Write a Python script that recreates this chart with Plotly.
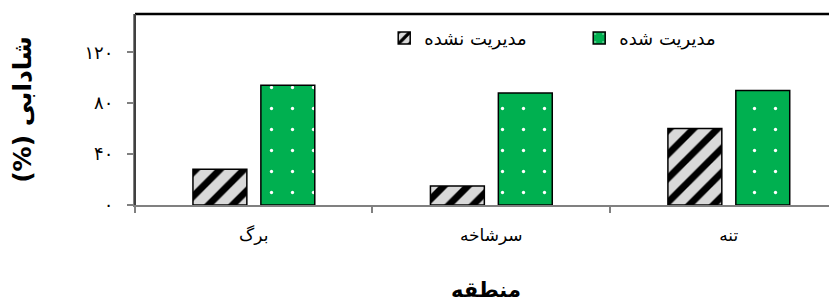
import plotly.graph_objects as go

categories = ["برگ", "سرشاخه", "تنه"]
unmanaged = [28, 15, 60]
managed = [94, 88, 90]
ytick_vals = [0, 40, 80, 120]
ytick_text = ["۰", "۴۰", "۸۰", "۱۲۰"]
series_names = ["مدیریت نشده", "مدیریت شده"]

FONT = "DejaVu Sans"

fig = go.Figure()
fig.add_trace(go.Bar(
    x=categories, y=unmanaged, name=series_names[0],
    width=0.227, offset=-0.256,
    marker=dict(color="#d9d9d9", line=dict(color="black", width=1.5),
                pattern=dict(shape="/", fgcolor="black", bgcolor="#d9d9d9",
                             size=17, solidity=0.4, fillmode="replace", fgopacity=1)),
))
fig.add_trace(go.Bar(
    x=categories, y=managed, name=series_names[1],
    width=0.227, offset=0.03,
    marker=dict(color="#00b050", line=dict(color="black", width=1.5),
                pattern=dict(shape=".", fgcolor="white", bgcolor="#00b050",
                             size=21, solidity=0.02, fillmode="replace", fgopacity=1)),
))

fig.update_layout(
    width=829, height=294,
    margin=dict(l=127, r=0, t=6, b=97),
    paper_bgcolor="white", plot_bgcolor="white",
    barmode="overlay",
    showlegend=True,
    legend=dict(orientation="h", x=0.355, xanchor="left", y=0.97, yanchor="top",
                font=dict(family=FONT, size=18, color="black"),
                bgcolor="rgba(0,0,0,0)", entrywidth=150, itemwidth=30,
                traceorder="normal"),
    font=dict(family=FONT, color="black"),
)
fig.update_xaxes(
    range=[-0.5, 2.456], type="category",
    showline=True, linecolor="#808080", linewidth=2,
    ticks="outside", tickson="boundaries", ticklen=6, tickcolor="#808080", tickwidth=1.5,
    tickfont=dict(family=FONT, size=17, color="black"),
    ticklabelstandoff=14,
    title=dict(text="<b>منطقه</b>", font=dict(family=FONT, size=21, color="black"), standoff=39),
    showgrid=False, zeroline=False,
)
fig.update_yaxes(
    range=[0, 150], tickvals=ytick_vals, ticktext=ytick_text,
    showline=True, linecolor="#808080", linewidth=2,
    ticks="outside", ticklen=6, tickcolor="#808080", tickwidth=1.5,
    tickfont=dict(family=FONT, size=18, color="black"),
    ticklabelstandoff=10,
    title=dict(text="<b>(%) شادابی</b>", font=dict(family=FONT, size=25, color="black"), standoff=48),
    showgrid=False, zeroline=False,
)
# chart frame: top border and left border
fig.add_shape(type="line", xref="paper", yref="paper", x0=0, x1=1, y0=1, y1=1,
              line=dict(color="black", width=2.5))
fig.add_shape(type="line", xref="paper", yref="paper", x0=0, x1=0, y0=0, y1=1,
              line=dict(color="#404040", width=2))

fig.write_html("out.html")
